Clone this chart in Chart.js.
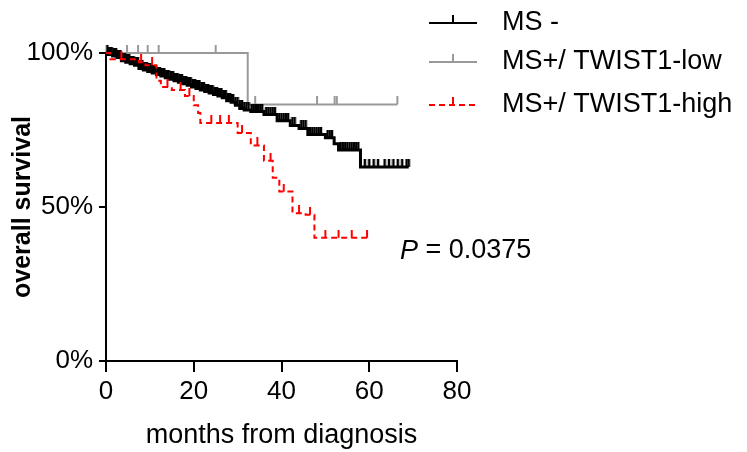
<!DOCTYPE html>
<html>
<head>
<meta charset="utf-8">
<script src="https://cdn.jsdelivr.net/npm/chart.js@4.4.0/dist/chart.umd.min.js"></script>
<style>
body { margin: 0; background: #fff; }
#wrap { width: 747px; height: 452px; }
</style>
</head>
<body>
<div id="wrap"><canvas id="km" width="747" height="452"></canvas></div>
<script>
var seriesNames = ['MS -', 'MS+/ TWIST1-low', 'MS+/ TWIST1-high'];
var xTicks = [0, 20, 40, 60, 80];
var yTicks = [0, 50, 100];

// MS - (black)
var negTime = [0, 0.5, 1.5, 2.5, 3.5, 4.5, 5.5, 6.5, 7.5, 8.5, 9.5, 10.5, 11.5, 12.5, 13.5, 14.5, 15.5, 16.5, 17.5, 18.5, 19.5, 20.5, 21.5, 22.5, 23.5, 24.5, 25.5, 26.5, 27.5, 28.5, 29.5, 30.5, 31.5, 33, 36, 39, 42, 44, 46, 50, 52, 53, 58, 69];
var negSurv = [100, 99.5, 99, 98.5, 97.5, 97, 96.5, 96, 95, 94.5, 94, 93.5, 93, 92.5, 92, 91.5, 91, 90.5, 90, 89.5, 89, 88.5, 88, 87.5, 87, 86.5, 86, 85.5, 84.5, 84, 83, 82, 81.5, 81, 80, 78, 76.5, 75.5, 73.5, 72.5, 70.5, 68.5, 63, 63];
var negCensor = [0.3, 0.7, 1, 1.3, 1.7, 2, 2.3, 2.7, 3, 3.3, 3.7, 4, 4.3, 4.7, 5, 5.3, 5.7, 6, 6.3, 6.7, 7, 7.3, 7.7, 8, 8.3, 8.7, 9, 9.3, 9.7, 10, 10.3, 10.7, 11, 11.3, 11.7, 12, 12.3, 12.7, 13, 13.3, 13.7, 14, 14.3, 14.7, 15, 15.3, 15.7, 16, 16.3, 16.7, 17, 17.3, 17.7, 18, 18.3, 18.7, 19, 19.3, 19.7, 20, 20.3, 20.7, 21, 21.3, 21.7, 22, 22.3, 22.7, 23, 23.3, 23.7, 24, 24.3, 24.7, 25, 25.3, 25.7, 26, 26.3, 26.7, 27, 27.3, 27.7, 28, 28.3, 28.7, 29, 29.5, 30, 30.5, 31, 31.5, 32, 32.5, 33.2, 33.6, 34, 34.4, 34.8, 35.2, 35.6, 36.5, 37, 37.5, 38, 38.5, 39.5, 40, 40.5, 41, 41.5, 42.5, 43, 44.5, 45, 45.5, 46.5, 47, 47.5, 48, 48.5, 49, 50.5, 51, 51.5, 53.5, 54, 54.5, 55, 55.5, 56, 56.5, 57, 57.5, 59, 60, 61, 62, 63.5, 64.5, 65.5, 66.5, 67.5, 68.5, 69];

// MS+/ TWIST1-low (grey)
var lowTime = [0, 32.3, 66.4];
var lowSurv = [100, 83.3, 83.3];
var lowCensor = [4.8, 7.3, 9.5, 12, 25, 34, 48.1, 52.1, 52.6, 66.4];

// MS+/ TWIST1-high (red)
var highTime = [0, 1, 7.5, 9, 11.5, 12.5, 15, 18, 20, 21, 21.5, 30, 33, 36, 38, 39.5, 42.5, 45.5, 47.5, 59.5];
var highSurv = [100, 98, 97, 96, 91, 89, 88, 86, 83, 80.5, 77.3, 74, 70, 65, 59.5, 55, 48, 47.5, 40, 40];
var highCensor = [3.5, 8, 10.5, 14, 17, 19, 24, 26, 28, 31, 34.5, 37.5, 40.5, 44, 46.5, 50, 53, 56, 59.5];

var pValueLabel = '0.0375';

function survAt(times, surv, t) {
    var s = surv[0];
    for (var i = 0; i < times.length; i++) {
        if (times[i] <= t) s = surv[i];
    }
    return s;
}

function curve(times, surv) {
    var pts = [];
    for (var i = 0; i < times.length; i++) pts.push({x: times[i], y: surv[i]});
    return pts;
}

function censorPts(cens, times, surv) {
    var pts = [];
    for (var i = 0; i < cens.length; i++) pts.push({x: cens[i], y: survAt(times, surv, cens[i])});
    return pts;
}

// upward tick used as censor mark
function tickMark(color, len, w) {
    var c = document.createElement('canvas');
    c.width = 4;
    c.height = len * 2;
    var g = c.getContext('2d');
    g.strokeStyle = color;
    g.lineWidth = w;
    g.beginPath();
    g.moveTo(2, 0);
    g.lineTo(2, len);
    g.stroke();
    return c;
}

var black = '#000000';
var grey = '#999999';
var red = '#ff0000';
var font = "'Liberation Sans', Arial, sans-serif";

var legendPlugin = {
    id: 'kmLegend',
    afterDraw: function(chart) {
        var ctx = chart.ctx;
        var rows = [
            {y: 23, color: black, dash: [], name: seriesNames[0]},
            {y: 62, color: grey, dash: [], name: seriesNames[1]},
            {y: 105, color: red, dash: [6, 4], name: seriesNames[2]}
        ];
        ctx.save();
        rows.forEach(function(r) {
            ctx.strokeStyle = r.color;
            ctx.lineWidth = 2;
            ctx.setLineDash(r.dash);
            ctx.beginPath();
            ctx.moveTo(429, r.y);
            ctx.lineTo(477, r.y);
            ctx.stroke();
            ctx.setLineDash([]);
            ctx.beginPath();
            ctx.moveTo(453, r.y);
            ctx.lineTo(453, r.y - 8);
            ctx.stroke();
            ctx.fillStyle = '#000';
            ctx.font = '27px ' + font;
            ctx.textBaseline = 'middle';
            ctx.textAlign = 'left';
            ctx.fillText(r.name, 502, r.y);
        });
        // p value
        ctx.fillStyle = '#000';
        ctx.textBaseline = 'middle';
        ctx.font = 'italic 27px ' + font;
        ctx.fillText('P', 400, 251);
        var w = ctx.measureText('P').width;
        ctx.font = '27px ' + font;
        ctx.fillText(' = ' + pValueLabel, 400 + w, 251);
        ctx.restore();
    }
};

var ctx = document.getElementById('km');
var kmChart = new Chart(ctx, {
    type: 'line',
    data: {
        datasets: [
            {
                label: seriesNames[2],
                data: curve(highTime, highSurv),
                borderColor: red,
                borderWidth: 2,
                borderDash: [6, 4],
                stepped: true,
                pointRadius: 0,
                fill: false,
                clip: 12
            },
            {
                label: seriesNames[2] + ' censored',
                data: censorPts(highCensor, highTime, highSurv),
                showLine: false,
                pointStyle: tickMark(red, 8, 2),
                pointRadius: 4,
                clip: 12
            },
            {
                label: seriesNames[0],
                data: curve(negTime, negSurv),
                borderColor: black,
                borderWidth: 3,
                stepped: true,
                pointRadius: 0,
                fill: false,
                clip: 12
            },
            {
                label: seriesNames[0] + ' censored',
                data: censorPts(negCensor, negTime, negSurv),
                showLine: false,
                pointStyle: tickMark(black, 8, 2.5),
                pointRadius: 4,
                clip: 12
            },
            {
                label: seriesNames[1],
                data: curve(lowTime, lowSurv),
                borderColor: grey,
                borderWidth: 2,
                stepped: true,
                pointRadius: 0,
                fill: false,
                clip: 12
            },
            {
                label: seriesNames[1] + ' censored',
                data: censorPts(lowCensor, lowTime, lowSurv),
                showLine: false,
                pointStyle: tickMark(grey, 8, 2),
                pointRadius: 4,
                clip: 12
            }
        ]
    },
    options: {
        responsive: false,
        animation: false,
        layout: { padding: { left: 0, top: 53, right: 290, bottom: 0 } },
        plugins: {
            legend: { display: false },
            tooltip: { enabled: false }
        },
        scales: {
            x: {
                type: 'linear',
                min: 0,
                max: 80,
                afterBuildTicks: function(scale) {
                    scale.ticks = xTicks.map(function(v) { return {value: v}; });
                },
                afterFit: function(scale) { scale.height = 91; },
                border: { color: '#000', width: 2 },
                grid: { drawOnChartArea: false, drawTicks: true, tickLength: 11, color: '#000', lineWidth: 2 },
                ticks: { color: '#000', padding: 4, maxRotation: 0, font: { family: font, size: 26 } },
                title: {
                    display: true,
                    text: 'months from diagnosis',
                    color: '#000',
                    font: { family: font, size: 27, lineHeight: 1.2 },
                    padding: { top: 0, bottom: 0 }
                }
            },
            y: {
                min: 0,
                max: 100,
                afterBuildTicks: function(scale) {
                    scale.ticks = yTicks.map(function(v) { return {value: v}; });
                },
                afterFit: function(scale) { scale.width = 106; },
                border: { color: '#000', width: 2 },
                grid: { drawOnChartArea: false, drawTicks: true, tickLength: 7, color: '#000', lineWidth: 2 },
                ticks: {
                    color: '#000',
                    padding: 6,
                    font: { family: font, size: 26 },
                    callback: function(v) { return v + '%'; }
                },
                title: {
                    display: true,
                    text: 'overall survival',
                    color: '#000',
                    font: { family: font, size: 25, weight: 'bold', lineHeight: 1.2 },
                    padding: { top: 8, bottom: 0 }
                }
            }
        }
    },
    plugins: [legendPlugin]
});
</script>
</body>
</html>
